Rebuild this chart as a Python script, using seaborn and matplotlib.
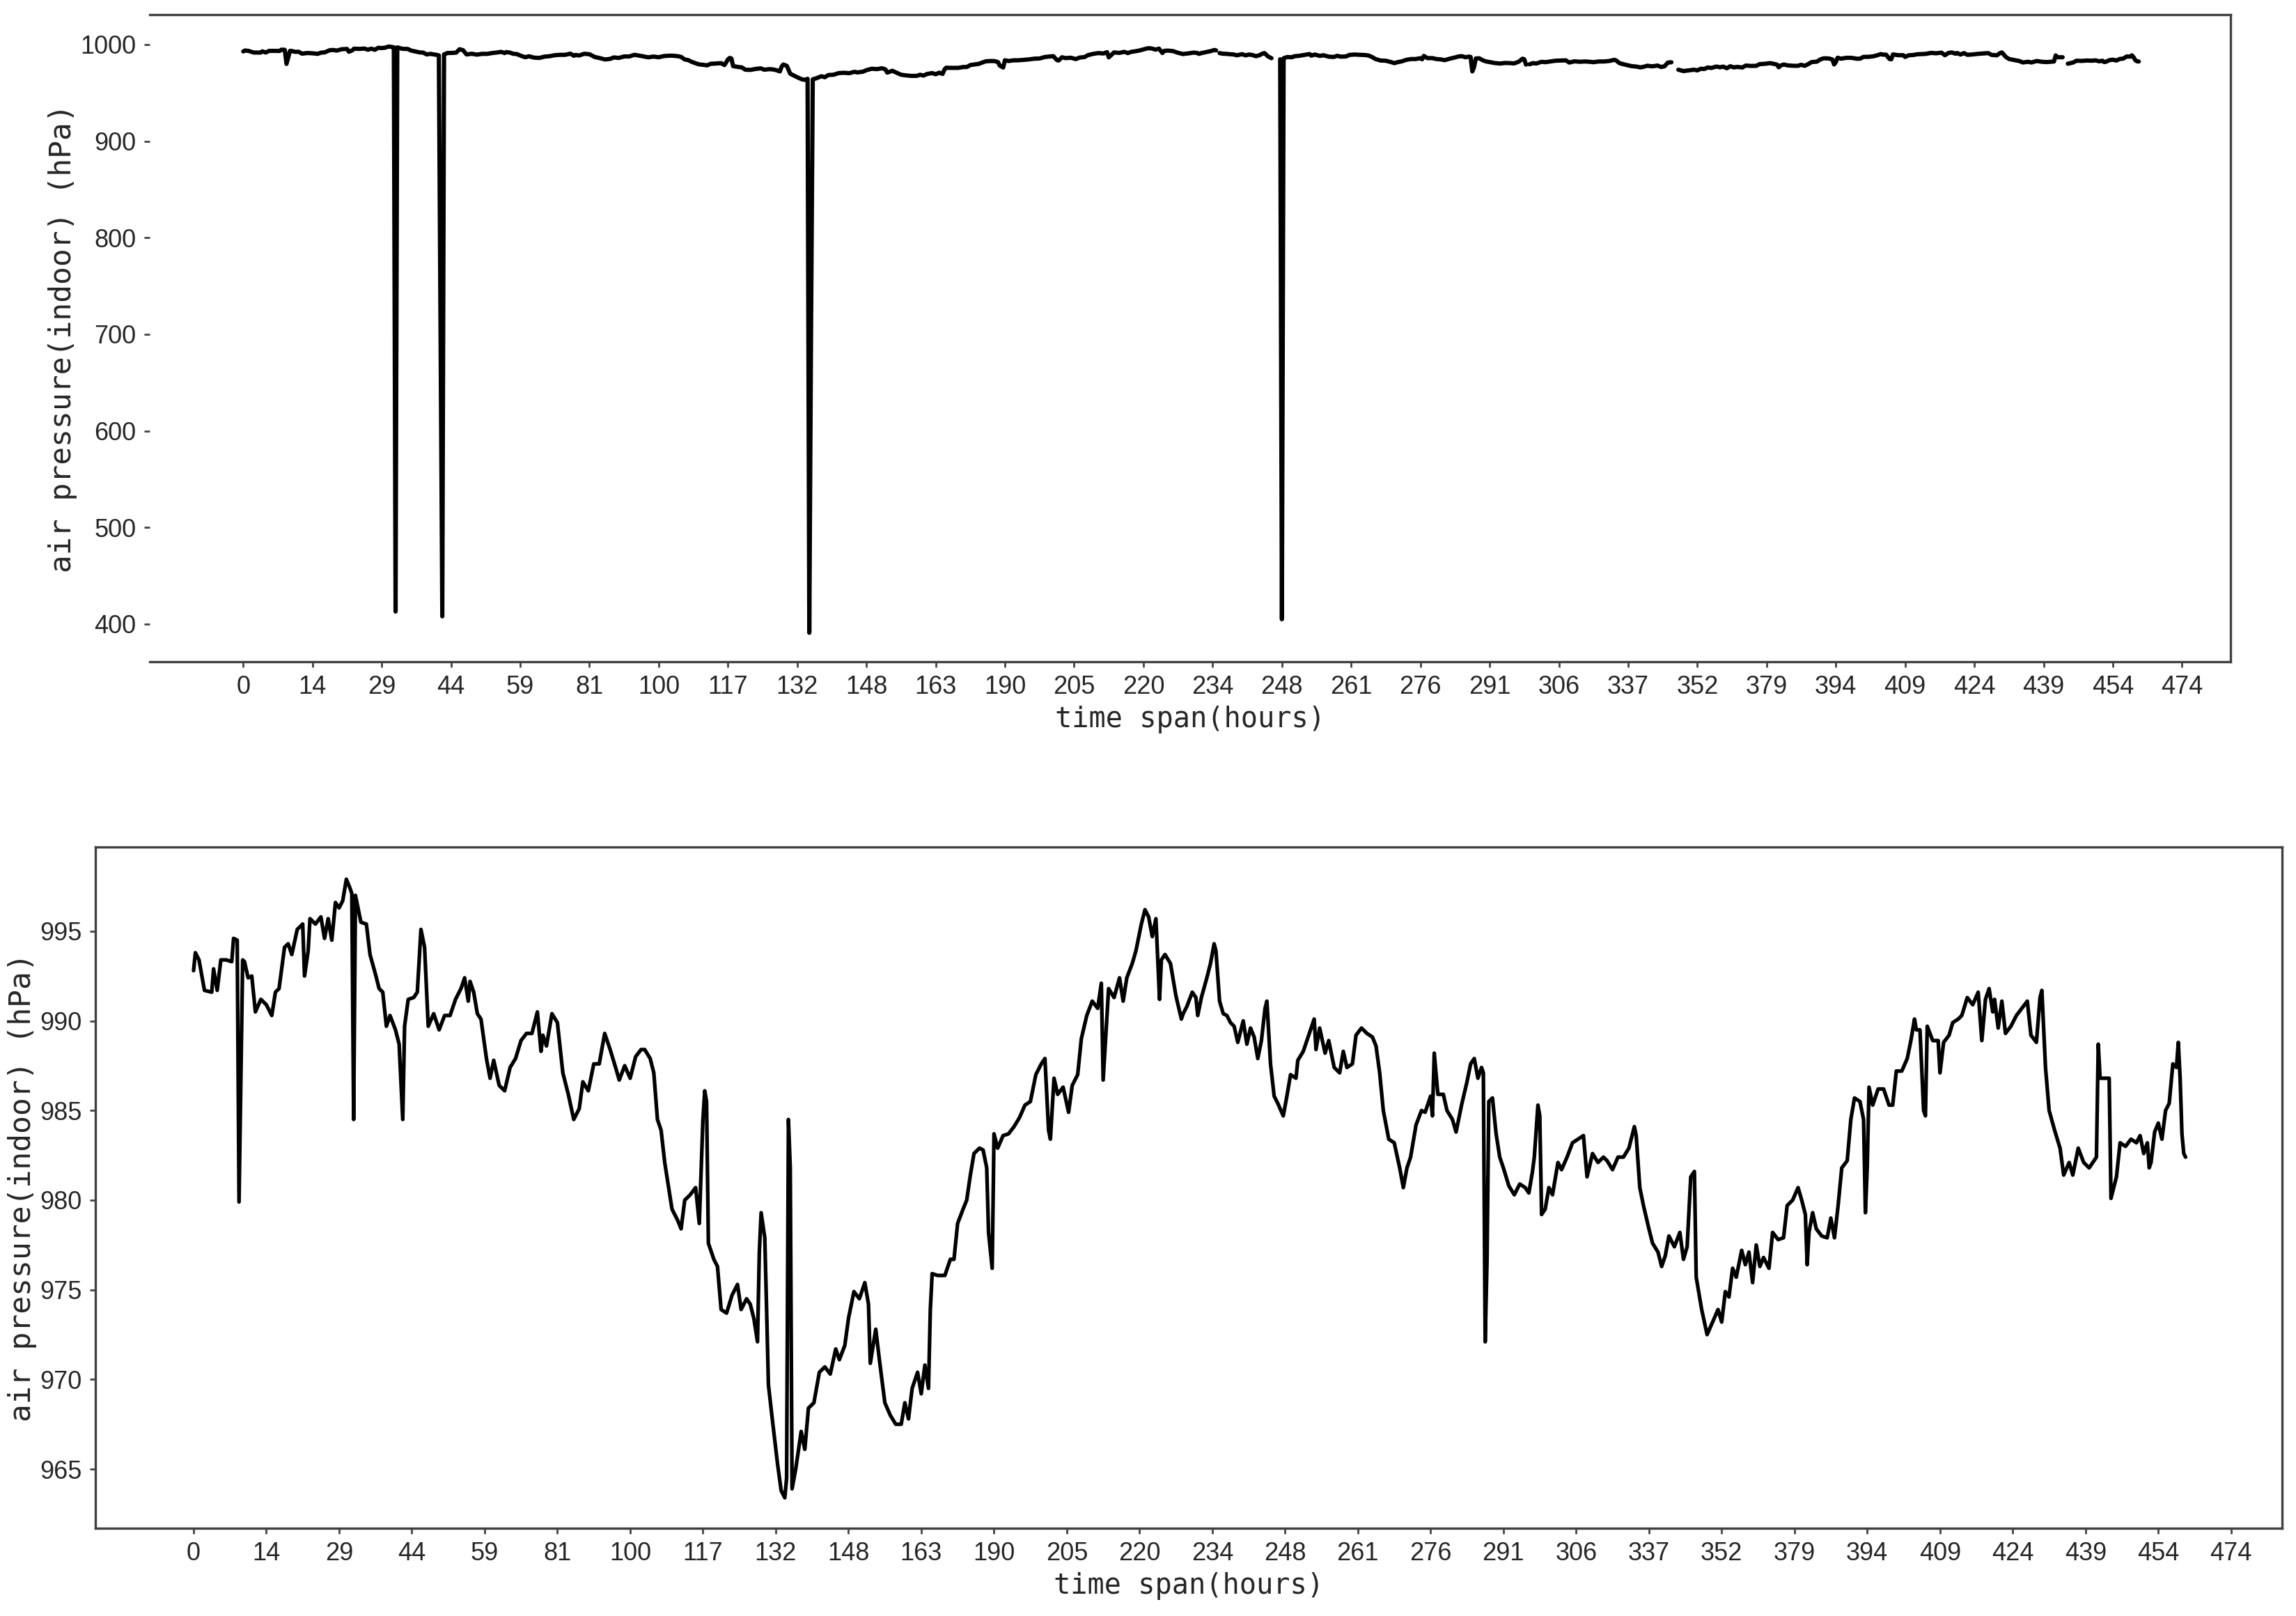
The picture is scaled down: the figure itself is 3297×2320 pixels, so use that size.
import numpy as np
import pandas as pd
import seaborn as sns
import matplotlib
matplotlib.use('Agg')
import matplotlib.pyplot as plt
from matplotlib import font_manager

# sample index (40 samples between labelled ticks) and indoor air pressure (hPa)
seg1_t = [0, 1, 3, 6, 10, 11, 13, 15, 18, 21, 22, 24, 25, 27, 28, 30, 32, 34, 37, 40,
          43, 45, 47, 50, 52, 54, 57, 60, 61, 63, 64, 67, 70, 72, 74, 76, 78, 80, 82, 84,
          86, 87, 88, 89, 92, 95, 97, 100, 102, 104, 106, 108, 111, 113, 115, 116, 118, 121, 123, 125,
          127, 129, 132, 135, 138, 141, 144, 147, 149, 151, 152, 154, 156, 158, 161, 163, 165, 168, 171, 174,
          177, 180, 183, 186, 189, 191, 192, 194, 197, 200, 203, 206, 209, 212, 214, 217, 220, 223, 226, 229,
          232, 234, 237, 240, 243, 246]
seg1_p = [992.8, 993.8, 993.4, 991.7, 991.6, 992.9, 991.7, 993.4, 993.4, 993.3,
          994.6, 994.5, 979.9, 993.4, 993.3, 992.4, 992.5, 990.5, 991.2, 990.9,
          990.3, 991.6, 991.8, 994.1, 994.3, 993.7, 995.1, 995.4, 992.5, 993.9,
          995.7, 995.4, 995.8, 994.6, 995.7, 994.5, 996.6, 996.3, 996.7, 997.9,
          997.4, 997.1, 984.5, 997.0, 995.5, 995.4, 993.7, 992.6, 991.8, 991.6,
          989.7, 990.3, 989.5, 988.7, 984.5, 989.7, 991.2, 991.3, 991.6, 995.1,
          994.1, 989.7, 990.4, 989.5, 990.3, 990.3, 991.2, 991.8, 992.4, 991.1,
          992.2, 991.6, 990.4, 990.1, 987.9, 986.8, 987.8, 986.4, 986.1, 987.4,
          987.9, 988.9, 989.3, 989.3, 990.5, 988.3, 989.2, 988.6, 990.4, 989.9,
          987.1, 985.9, 984.5, 985.1, 986.6, 986.1, 987.6, 987.6, 989.3, 988.4,
          987.4, 986.7, 987.5, 986.8, 988.0, 988.4]

seg2_t = [248, 251, 253, 255, 257, 259, 261, 263, 266, 268, 270, 273, 276, 278, 280, 281, 282, 283, 286, 288,
          290, 293, 296, 299, 301, 304, 306, 308, 310, 311, 312, 314, 315, 316, 318, 321, 323, 325, 326, 327,
          328, 329, 331, 334, 336, 338, 341, 344, 347, 350, 353, 355, 358, 360, 363, 366, 369, 371, 372, 375,
          377, 380, 383, 386, 389, 391, 393, 395, 398, 400, 402, 404, 405, 406, 409, 413, 416, 418, 420, 423,
          425, 427, 429, 432, 434, 436, 437, 439, 440, 442, 445, 448, 451, 454, 457, 460, 463, 466, 468, 470,
          471, 473, 475, 478, 481, 483, 486, 488, 491, 494, 497, 499, 500, 503, 506, 509, 511, 513, 516, 518,
          521, 523, 525, 527, 529, 531, 532, 534, 537, 540, 543]
seg2_p = [988.4, 987.9, 987.1, 984.5, 983.9, 982.1, 980.8, 979.5, 978.9, 978.4,
          980.0, 980.3, 980.7, 978.7, 984.5, 986.1, 985.5, 977.6, 976.7, 976.3,
          973.9, 973.7, 974.7, 975.3, 973.9, 974.5, 974.2, 973.4, 972.1, 977.1,
          979.3, 977.9, 973.9, 969.7, 967.9, 965.3, 963.8, 963.4, 964.5, 984.5,
          981.8, 963.9, 965.0, 967.1, 966.1, 968.4, 968.7, 970.4, 970.7, 970.3,
          971.7, 971.1, 971.9, 973.4, 974.9, 974.5, 975.4, 974.2, 970.9, 972.8,
          971.1, 968.7, 968.0, 967.5, 967.5, 968.7, 967.8, 969.5, 970.4, 969.2,
          970.8, 969.5, 973.9, 975.9, 975.8, 975.8, 976.7, 976.7, 978.7, 979.5,
          980.0, 981.4, 982.6, 982.9, 982.8, 981.8, 978.2, 976.2, 983.7, 982.9,
          983.6, 983.7, 984.1, 984.6, 985.3, 985.5, 987.0, 987.6, 987.9, 983.9,
          983.4, 986.8, 985.9, 986.3, 984.9, 986.4, 987.0, 989.0, 990.3, 991.1,
          990.7, 992.1, 986.7, 991.8, 991.3, 992.4, 991.1, 992.4, 993.2, 993.9,
          995.4, 996.2, 995.8, 994.7, 995.7, 991.2, 993.4, 993.7, 993.2, 991.4,
          990.1]

seg3_t = [544, 546, 549, 551, 552, 554, 557, 559, 561, 562, 564, 566, 568, 570, 572, 574, 577, 579, 581, 583,
          585, 587, 589, 590, 592, 594, 596, 599, 601, 603, 606, 607, 610, 613, 616, 617, 619, 622, 624, 627,
          630, 632, 634, 637, 639, 642, 645, 648, 650, 652, 654, 657, 660, 663, 665, 667, 669, 672, 675, 677,
          680, 681, 682, 684, 687, 689, 692, 694, 697, 700, 702, 704, 706, 708, 709, 710, 711, 712, 714, 716,
          718, 720, 723, 726, 729, 732, 734, 736, 737, 739, 740, 741, 743, 745, 747, 750, 752, 755, 758, 761,
          764, 766, 769, 772, 775, 777, 780, 783, 786, 789, 792, 793, 795, 797, 800, 802, 805, 807, 809, 811,
          814, 817, 819, 821, 823, 825, 826, 829, 832, 835, 838]
seg3_p = [990.4, 990.8, 991.6, 991.3, 990.3, 991.3, 992.4, 993.2, 994.3, 993.9,
          991.1, 990.4, 990.3, 989.9, 989.7, 988.8, 990.0, 988.7, 989.6, 989.1,
          987.9, 988.9, 990.7, 991.1, 987.6, 985.8, 985.4, 984.7, 985.8, 987.0,
          986.8, 987.8, 988.3, 989.2, 990.1, 988.4, 989.6, 988.2, 988.9, 987.4,
          987.1, 988.3, 987.4, 987.6, 989.2, 989.6, 989.3, 989.1, 988.6, 987.1,
          985.0, 983.4, 983.2, 981.8, 980.7, 981.8, 982.4, 984.2, 985.0, 984.9,
          985.8, 984.7, 988.2, 985.9, 985.9, 985.0, 984.5, 983.8, 985.3, 986.6,
          987.6, 987.9, 986.8, 987.4, 987.1, 972.1, 976.6, 985.5, 985.7, 983.7,
          982.4, 981.8, 980.8, 980.3, 980.9, 980.7, 980.4, 981.6, 982.4, 985.3,
          984.7, 979.2, 979.5, 980.7, 980.3, 982.1, 981.7, 982.4, 983.2, 983.4,
          983.6, 981.3, 982.6, 982.1, 982.4, 982.2, 981.7, 982.4, 982.4, 982.9,
          984.1, 983.6, 980.7, 979.7, 978.4, 977.6, 977.1, 976.3, 976.9, 978.0,
          977.4, 978.2, 976.7, 977.4, 981.3, 981.6, 975.7, 973.9, 972.5, 973.2,
          973.9]

seg4_t = [840, 842, 844, 846, 848, 851, 853, 855, 857, 859, 861, 863, 866, 868, 871, 874, 876, 879, 882, 884,
          886, 887, 888, 890, 892, 895, 898, 900, 902, 904, 906, 909, 911, 913, 916, 918, 919, 920, 921, 923,
          926, 929, 932, 934, 936, 939, 942, 944, 946, 947, 949, 951, 952, 953, 956, 959, 960, 962, 965, 967,
          970, 972, 975, 978, 981, 983, 985, 987, 989, 990, 992, 994, 996, 999, 1002, 1005, 1008, 1010, 1013, 1015,
          1016, 1018, 1020, 1023, 1026, 1028, 1031, 1033, 1036, 1039, 1042, 1044, 1046, 1047, 1048, 1051, 1053, 1054, 1057, 1059,
          1062, 1065, 1068, 1070, 1072, 1074, 1075, 1076, 1078, 1080, 1082, 1084, 1086, 1088, 1090, 1091, 1092, 1093, 1094, 1095]
seg4_p = [973.2, 974.9, 974.6, 976.2, 975.7, 977.2, 976.4, 977.1, 975.4, 977.5,
          976.3, 976.8, 976.2, 978.2, 977.8, 977.9, 979.7, 980.0, 980.7, 980.0,
          979.2, 976.4, 978.2, 979.3, 978.4, 978.0, 977.9, 979.0, 977.9, 979.7,
          981.8, 982.2, 984.5, 985.7, 985.5, 984.5, 979.3, 981.8, 986.3, 985.3,
          986.2, 986.2, 985.3, 985.3, 987.2, 987.2, 987.9, 988.9, 990.1, 989.5,
          989.5, 985.0, 984.7, 989.7, 988.9, 988.9, 987.1, 988.8, 989.2, 989.9,
          990.1, 990.3, 991.3, 990.9, 991.6, 988.9, 991.2, 991.8, 990.5, 991.2,
          989.6, 991.1, 989.3, 989.7, 990.3, 990.7, 991.1, 989.2, 988.8, 991.3,
          991.7, 987.4, 985.0, 983.9, 982.9, 981.4, 982.1, 981.4, 982.9, 982.1,
          981.8, 982.1, 982.4, 988.7, 986.8, 986.8, 986.8, 980.1, 981.3, 983.2,
          983.0, 983.4, 983.2, 983.6, 982.6, 983.2, 981.8, 982.1, 983.8, 984.3,
          983.4, 985.0, 985.4, 987.6, 987.4, 988.8, 986.8, 983.7, 982.6, 982.4]

# sensor dropouts in the raw record and missing readings
spike_t = [88, 115, 327, 328, 600]
spike_p = [413, 408, 391, 700, 405]
gap_t = [563, 596, 742, 826, 1053]

tick_labels = ['0', '14', '29', '44', '59', '81', '100', '117', '132', '148', '163', '190', '205', '220',
               '234', '248', '261', '276', '291', '306', '337', '352', '379', '394', '409', '424', '439',
               '454', '474']

clean = pd.DataFrame({'t': seg1_t + seg2_t + seg3_t + seg4_t,
                      'p': seg1_p + seg2_p + seg3_p + seg4_p})

# raw record = cleaned series with the dropouts put back and the missing readings blanked
raw = clean.set_index('t')['p'].astype(float).copy()
for t, p in zip(spike_t, spike_p):
    raw.loc[t] = p
for t in gap_t:
    raw.loc[t] = np.nan
raw = raw.sort_index().reset_index()
raw.columns = ['t', 'p']
raw['seg'] = raw['p'].isna().cumsum()
raw = raw.dropna()

sns.set_style('ticks')
installed = {f.name for f in font_manager.fontManager.ttflist}
tick_family = 'Liberation Sans Narrow' if 'Liberation Sans Narrow' in installed else 'Liberation Sans'
plt.rcParams['font.family'] = [tick_family, 'DejaVu Sans']
label_font = {'family': 'DejaVu Sans Mono', 'size': 15.5}

fig = plt.figure(figsize=(16.49, 11.6), dpi=200)
ax1 = fig.add_axes([0.0652, 0.5905, 0.906, 0.4005])
ax2 = fig.add_axes([0.0415, 0.0543, 0.9521, 0.4216])

sns.lineplot(data=raw, x='t', y='p', units='seg', estimator=None, color='black',
             linewidth=2.2, ax=ax1, legend=False)
sns.lineplot(data=clean, x='t', y='p', estimator=None, color='black',
             linewidth=1.9, ax=ax2)

ax1.set_ylim(361, 1031)
ax1.set_yticks(range(400, 1001, 100))
ax2.set_ylim(961.7, 999.7)
ax2.set_yticks(range(965, 996, 5))

for ax in (ax1, ax2):
    ax.set_xlim(-54, 1148)
    ax.set_xticks(np.arange(0, 40 * len(tick_labels), 40))
    ax.set_xticklabels(tick_labels)
    ax.set_xlabel('time span(hours)', fontdict={'family': 'DejaVu Sans Mono', 'size': 14.5}, labelpad=3)
    ax.set_ylabel('air pressure(indoor) (hPa)', fontdict=label_font, labelpad=1.5)
    ax.tick_params(axis='both', labelsize=13, length=3, width=1, color='#444444', pad=4)
    for s in ax.spines.values():
        s.set_color('#404040')
        s.set_linewidth(1.2)

ax1.spines['left'].set_visible(False)

fig.savefig('out.png', dpi=200, facecolor='white')
